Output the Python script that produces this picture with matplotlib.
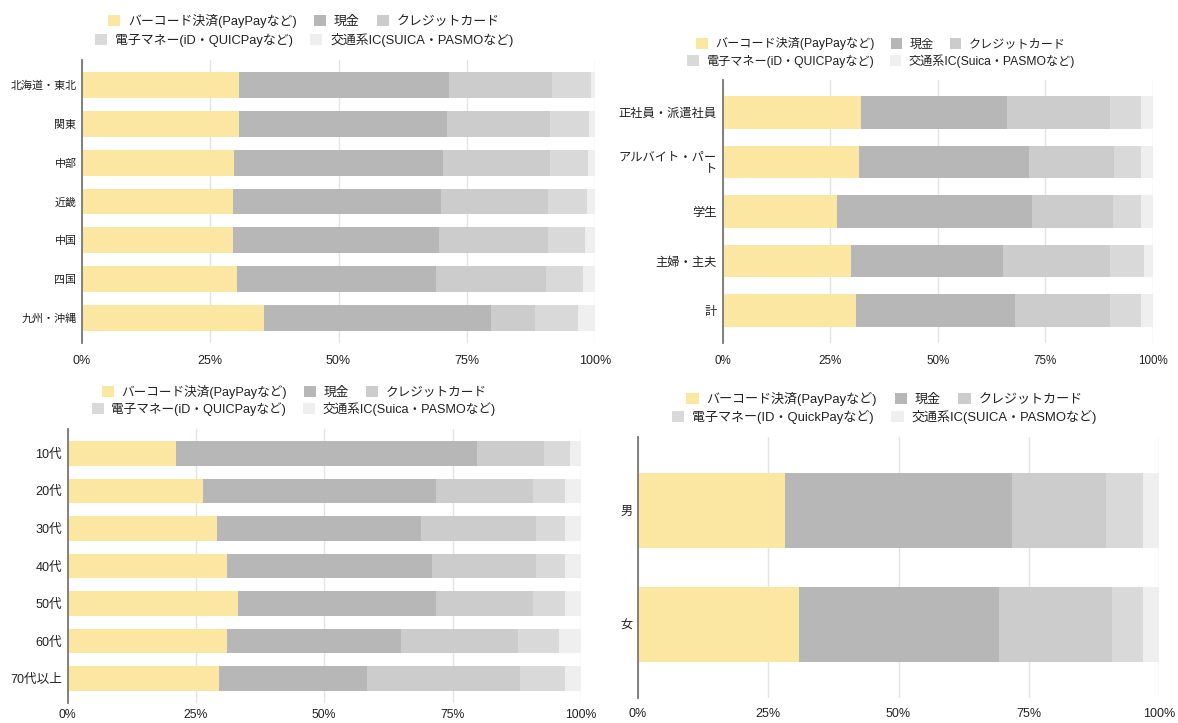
import matplotlib
matplotlib.use("Agg")
import matplotlib.pyplot as plt
from matplotlib.patches import Patch
import numpy as np

plt.rcParams['font.family'] = ['Liberation Sans', 'Noto Sans CJK JP', 'DejaVu Sans']

# ---------------- data ----------------
series_colors = ['#fbe6a2', '#b7b7b7', '#cccccc', '#d9d9d9', '#efefef']

# panel 1: region
region_labels = ['北海道・東北', '関東', '中部', '近畿', '中国', '四国', '九州・沖縄']
region_barcode = [30.6, 30.6, 29.7, 29.5, 29.5, 30.3, 35.5]
region_cash = [41.0, 40.6, 40.7, 40.4, 40.1, 38.7, 44.2]
region_credit = [20.0, 20.1, 20.9, 21.0, 21.3, 21.4, 8.6]
region_emoney = [7.7, 7.6, 7.3, 7.5, 7.2, 7.3, 8.4]
region_ic = [0.7, 1.1, 1.4, 1.6, 1.9, 2.3, 3.3]
region_legend = ['バーコード決済(PayPayなど)', '現金', 'クレジットカード',
                 '電子マネー(iD・QUICPayなど)', '交通系IC(SUICA・PASMOなど)']

# panel 2: occupation
job_labels = ['正社員・派遣社員', 'アルバイト・パー\nト', '学生', '主婦・主夫', '計']
job_barcode = [32.2, 31.6, 26.5, 29.8, 31.1]
job_cash = [33.8, 39.7, 45.3, 35.4, 36.9]
job_credit = [24.0, 19.7, 19.0, 24.8, 22.0]
job_emoney = [7.1, 6.1, 6.3, 8.0, 7.1]
job_ic = [2.9, 2.9, 2.9, 2.0, 2.9]
job_legend = ['バーコード決済(PayPayなど)', '現金', 'クレジットカード',
              '電子マネー(iD・QUICPayなど)', '交通系IC(Suica・PASMOなど)']

# panel 3: age
age_labels = ['10代', '20代', '30代', '40代', '50代', '60代', '70代以上']
age_barcode = [21.1, 26.4, 29.1, 31.0, 33.2, 31.0, 29.6]
age_cash = [58.7, 45.4, 39.8, 39.9, 38.6, 34.0, 28.8]
age_credit = [13.0, 18.9, 22.3, 20.3, 18.9, 22.8, 29.7]
age_emoney = [5.1, 6.2, 5.7, 5.7, 6.2, 8.0, 8.8]
age_ic = [2.1, 3.1, 3.1, 3.1, 3.1, 4.2, 3.1]
age_legend = ['バーコード決済(PayPayなど)', '現金', 'クレジットカード',
              '電子マネー(iD・QUICPayなど)', '交通系IC(Suica・PASMOなど)']

# panel 4: sex
sex_labels = ['男', '女']
sex_barcode = [28.2, 30.9]
sex_cash = [43.5, 38.3]
sex_credit = [18.1, 21.8]
sex_emoney = [7.2, 6.0]
sex_ic = [3.0, 3.0]
sex_legend = ['バーコード決済(PayPayなど)', '現金', 'クレジットカード',
              '電子マネー(ID・QuickPayなど)', '交通系IC(SUICA・PASMOなど)']

x_ticks = [0, 25, 50, 75, 100]
x_ticklabels = ['0%', '25%', '50%', '75%', '100%']

# ---------------- figure ----------------
W, H = 1178, 723
fig = plt.figure(figsize=(W / 100, H / 100), dpi=100)
fig.patch.set_facecolor('white')


def panel(left, right, top, bottom, labels, series, legend_labels,
          leg_cx, leg_y1, leg_y2, ysize, legsize, xsize, xpad=9):
    ax = fig.add_axes([left / W, 1 - bottom / H, (right - left) / W, (bottom - top) / H])
    n = len(labels)
    y = np.arange(n)
    cum = np.zeros(n)
    for vals, col in zip(series, series_colors):
        v = np.array(vals)
        ax.barh(y, v, left=cum, height=0.66, color=col, edgecolor='none', zorder=3)
        cum += v
    ax.set_xlim(0, 100)
    ax.set_ylim(n - 1 + 0.65, -0.65)
    ax.set_yticks(y)
    ax.set_yticklabels(labels, fontsize=ysize, color='#222222', linespacing=1.0,
                       multialignment='right')
    ax.set_xticks(x_ticks)
    ax.set_xticklabels(x_ticklabels, fontsize=xsize, color='#222222')
    ax.tick_params(axis='both', length=0)
    ax.tick_params(axis='y', pad=4)
    ax.tick_params(axis='x', pad=xpad)
    for s in ['top', 'right', 'bottom']:
        ax.spines[s].set_visible(False)
    ax.spines['left'].set_color('#777777')
    ax.spines['left'].set_linewidth(1.3)
    ax.spines['left'].set_zorder(5)
    ax.xaxis.grid(True, color='#e3e3e3', linewidth=1.0, zorder=0)
    ax.set_axisbelow(True)
    ax.set_facecolor('none')

    handles = [Patch(facecolor=c, edgecolor='none') for c in series_colors]
    common = dict(loc='center', frameon=False, fontsize=legsize, handlelength=0.95,
                  handleheight=0.95, handletextpad=0.6, columnspacing=1.35,
                  borderpad=0, borderaxespad=0, labelcolor='#222222')
    fig.legend(handles[:3], legend_labels[:3], ncol=3,
               bbox_to_anchor=(leg_cx / W, 1 - leg_y1 / H), **common)
    fig.legend(handles[3:], legend_labels[3:], ncol=2,
               bbox_to_anchor=(leg_cx / W, 1 - leg_y2 / H), **common)
    return ax


panel(82, 595, 60, 343, region_labels,
      [region_barcode, region_cash, region_credit, region_emoney, region_ic],
      region_legend, 304, 21, 40, 7.9, 9.3, 9.0)

panel(722.5, 1153, 80, 343, job_labels,
      [job_barcode, job_cash, job_credit, job_emoney, job_ic],
      job_legend, 881, 44, 61, 8.8, 8.7, 8.4)

panel(67.5, 581, 429, 703, age_labels,
      [age_barcode, age_cash, age_credit, age_emoney, age_ic],
      age_legend, 294, 392, 409, 9.1, 9.1, 8.8, xpad=4)

panel(638, 1159, 437, 698, sex_labels,
      [sex_barcode, sex_cash, sex_credit, sex_emoney, sex_ic],
      sex_legend, 884.5, 399, 417, 8.7, 9.4, 9.0, xpad=7)

fig.savefig('out.png', dpi=100, facecolor='white')
